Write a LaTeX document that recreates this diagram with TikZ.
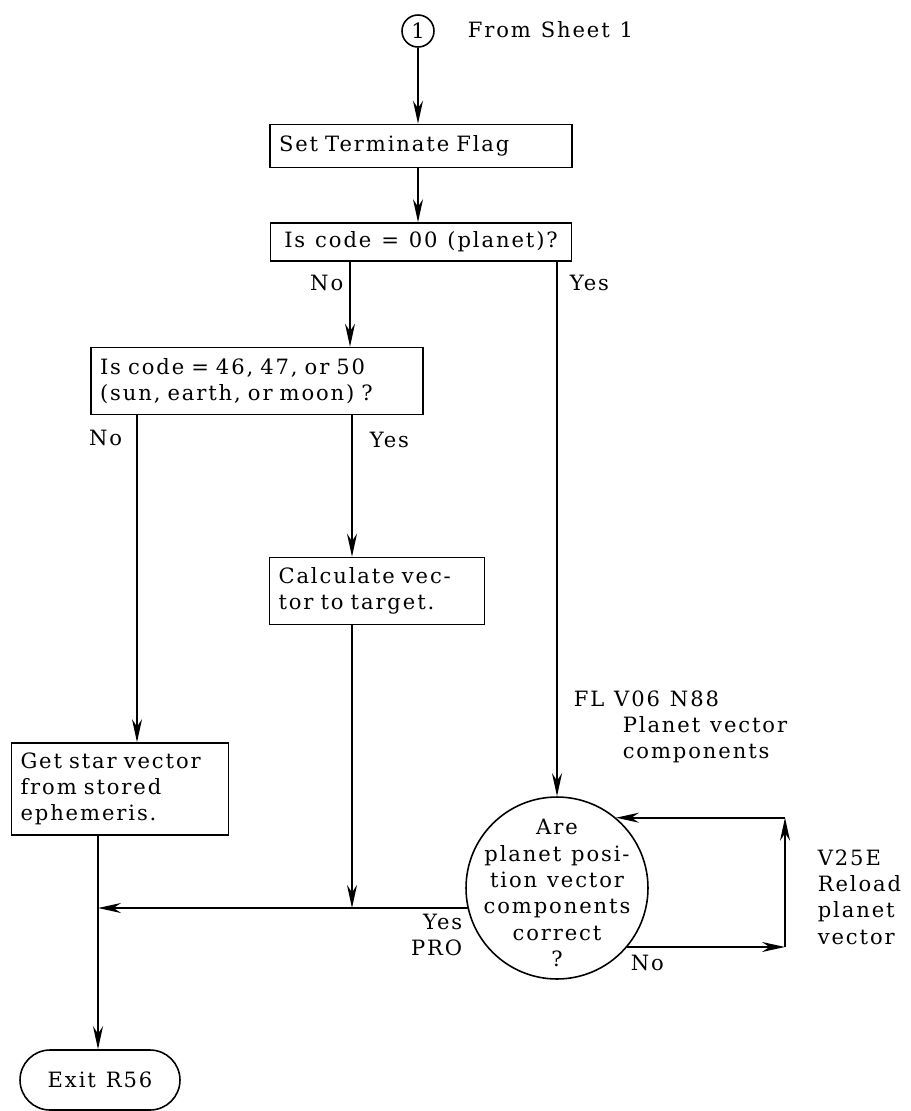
\documentclass[tikz,border=0pt]{standalone}
\usepackage{fontspec}
\setmainfont[LetterSpace=9, WordSpace=1.15]{DejaVu Serif}
\usetikzlibrary{arrows.meta, positioning}

\begin{document}
\begin{tikzpicture}[x=0.02cm, y=-0.02cm, ->, >={Stealth[length=4.6mm, width=2mm]},
  line width=0.9pt, font=\fontsize{12}{15}\selectfont,
  caja/.style={draw, rectangle, inner xsep=0.18cm, inner ysep=0pt, align=left},
  conector/.style={draw, circle, minimum size=0.64cm, inner sep=0pt},
  fin/.style={draw, rectangle, rounded corners=0.6cm, minimum width=3.2cm, minimum height=1.2cm},
  etiqueta/.style={inner sep=0pt}]
\useasboundingbox (0,0) rectangle (910,1111);

% Nodos
\node[conector] (c1) at (418,31) {1};
\node[etiqueta, anchor=west] (hoja) at (467,30) {From Sheet 1};
\node[caja, text width=5.68cm, minimum height=0.86cm] (flag) at (421,146) {Set Terminate Flag};
\node[caja, inner xsep=0.04cm, minimum width=6.02cm, minimum height=0.76cm] (d1) at (421,242) {Is code = 00 (planet)?};
\node[caja, text width=6.28cm, minimum height=1.34cm] (d2) at (257,381) {Is code = 46, 47, or 50\\(sun, earth, or moon) ?};
\node[caja, text width=3.94cm, minimum height=1.34cm] (calc) at (377,591) {Calculate vec-\\tor to target.};
\node[caja, text width=3.98cm, minimum height=1.84cm] (star) at (120,789) {Get star vector\\from stored\\ephemeris.};
\node[draw, circle, minimum size=3.64cm, inner sep=0pt] (ok) at (557,888) {};
\node[etiqueta, align=center] at (557,893) {Are\\planet posi-\\tion vector\\components\\correct\\?};
\node[fin] (exit) at (100,1080) {Exit R56};

% Puntos de paso
\coordinate (xno) at (350,0);
\coordinate (xsi) at (557,0);
\coordinate (xno2) at (137,0);
\coordinate (xsi2) at (352,0);
\coordinate (jn) at (98,908);
\coordinate (rb) at (785,0);

% Etiquetas
\node[etiqueta, anchor=east] at (344,283) {No};
\node[etiqueta, anchor=west] at (569,283) {Yes};
\node[etiqueta, anchor=east] at (123,438) {No};
\node[etiqueta, anchor=west] at (369,440) {Yes};
\node[etiqueta, anchor=west, align=left] at (573,727)
  {FL V06 N88\\\hspace*{0.98cm}Planet vector\\\hspace*{0.98cm}components};
\node[etiqueta, anchor=east, align=right] at (463,935) {Yes\\PRO};
\node[etiqueta, anchor=west] at (630,963) {No};
\node[etiqueta, anchor=west, align=left] at (817,897) {V25E\\Reload\\planet\\vector};

% Flechas
\draw (c1) -- (c1 |- flag.north);
\draw (c1 |- flag.south) -- (c1 |- d1.north);
\draw (xno |- d1.south) -- (xno |- d2.north);
\draw (xsi |- d1.south) -- (ok);
\draw (xno2 |- d2.south) -- (xno2 |- star.north);
\draw (xsi2 |- d2.south) -- (xsi2 |- calc.north);
\draw (xsi2 |- calc.south) -- (xsi2 |- jn);
\draw (ok.193 |- jn) -- (jn);
\draw (jn |- star.south) -- (jn |- exit.north);
\draw (ok.-40) -- (ok.-40 -| rb);
\draw (ok.-40 -| rb) -- (ok.50 -| rb);
\draw (ok.50 -| rb) -- (ok.50);
\end{tikzpicture}
\end{document}
